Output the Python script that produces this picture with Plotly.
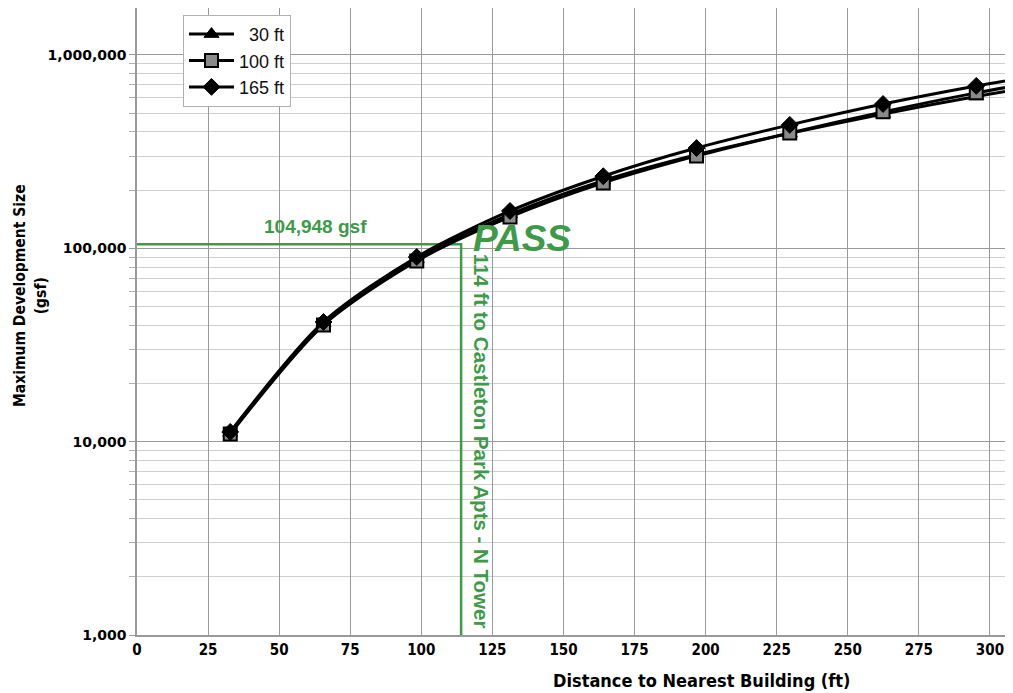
import plotly.graph_objects as go

# ---------------- data ----------------
distance_ft = [32.8, 65.6, 98.4, 131.2, 164.0, 196.8, 229.6, 262.4, 295.2, 328.1]
size_30ft = [11100, 40800, 88000, 150000, 224000, 305000, 393000, 495000, 610000, 735000]
size_100ft = [10960, 40100, 86000, 145300, 218000, 300600, 395000, 508000, 637000, 775000]
size_165ft = [11230, 41600, 90200, 156000, 236000, 330000, 435000, 558000, 692000, 835000]

series_names = ["\u00a0\u00a030 ft", "100 ft", "165 ft"]

pass_gsf = 104948
pass_dist = 114

x_ticks = [0, 25, 50, 75, 100, 125, 150, 175, 200, 225, 250, 275, 300]
y_ticks = [1000, 10000, 100000, 1000000]
y_tick_text = ["1,000", "10,000", "100,000", "1,000,000"]
y_minor = [m * 10 ** e for e in range(3, 7) for m in range(2, 10)]

GREEN = "#3d9b48"
COND = "DejaVu Sans Condensed, Liberation Sans Narrow, sans-serif"

fig = go.Figure()

# green guide lines
fig.add_trace(go.Scatter(
    x=[0, pass_dist, pass_dist], y=[pass_gsf, pass_gsf, 1000],
    mode="lines", line=dict(color=GREEN, width=2.5),
    showlegend=False, hoverinfo="skip"))

styles = [
    dict(symbol="triangle-up", color="black", line=dict(color="black", width=1)),
    dict(symbol="square", color="#8a8a8a", line=dict(color="black", width=2)),
    dict(symbol="diamond", color="black", line=dict(color="black", width=1)),
]
for name, vals, mk in zip(series_names, [size_30ft, size_100ft, size_165ft], styles):
    fig.add_trace(go.Scatter(
        x=distance_ft, y=vals, name=name, mode="lines+markers",
        line=dict(color="black", width=3, shape="spline", smoothing=0.8),
        marker=dict(size=13, symbol=mk["symbol"], color=mk["color"], line=mk["line"]),
    ))

fig.update_layout(
    width=1013, height=693,
    margin=dict(l=137, r=8, t=8, b=58),
    paper_bgcolor="white", plot_bgcolor="white",
    font=dict(family="Liberation Sans, Arial, sans-serif", color="black"),
    legend=dict(
        x=0.053, y=0.989, xanchor="left", yanchor="top",
        bgcolor="white", bordercolor="#b0b0b0", borderwidth=1,
        font=dict(size=18, family="Liberation Sans, Arial, sans-serif", color="#111"),
        itemwidth=45, traceorder="normal",
    ),
    xaxis=dict(
        range=[0, 305.3], tickvals=x_ticks, ticktext=[str(v) for v in x_ticks],
        showgrid=True, gridcolor="#9a9a9a", gridwidth=1,
        showline=True, linecolor="#9a9a9a", linewidth=1.5,
        zeroline=False, ticks="",
        tickfont=dict(size=15, family=COND, weight="bold"),
    ),
    yaxis=dict(
        type="log", range=[3, 6.243], tickvals=y_ticks, ticktext=y_tick_text,
        showgrid=True, gridcolor="#9a9a9a", gridwidth=1,
        showline=True, linecolor="#9a9a9a", linewidth=1.5,
        ticks="outside", ticklen=6, tickcolor="#9a9a9a",
        minor=dict(tickvals=y_minor, showgrid=True, gridcolor="#cfcfcf",
                   ticks="outside", ticklen=6, tickcolor="#b0b0b0"),
        zeroline=False,
        tickfont=dict(size=14, family="DejaVu Sans, sans-serif", weight="bold"),
    ),
)

# axis titles as annotations
fig.add_annotation(
    x=0.65, y=-0.073, xref="paper", yref="paper", showarrow=False,
    text="<b>Distance to Nearest Building (ft)</b>",
    font=dict(size=18, family=COND),
    xanchor="center", yanchor="middle")
fig.add_annotation(
    x=-0.123, y=0.541, xref="paper", yref="paper", showarrow=False,
    text="<b>Maximum Development Size<br>(gsf)</b>", textangle=-90,
    font=dict(size=15.5, family=COND),
    xanchor="center", yanchor="middle")

# green annotations
fig.add_annotation(
    x=0.206, y=0.652, xref="paper", yref="paper", showarrow=False,
    text="<b>104,948 gsf</b>", font=dict(size=19, color=GREEN),
    xanchor="center", yanchor="middle")
fig.add_annotation(
    x=0.443, y=0.632, xref="paper", yref="paper", showarrow=False,
    text="<b><i>PASS</i></b>", font=dict(size=37, color=GREEN),
    xanchor="center", yanchor="middle")
fig.add_annotation(
    x=0.397, y=0.309, xref="paper", yref="paper", showarrow=False,
    text="<b>114 ft to Castleton Park Apts - N Tower</b>", textangle=90,
    font=dict(size=20.5, color=GREEN),
    xanchor="center", yanchor="middle")

fig.write_html("out.html")
